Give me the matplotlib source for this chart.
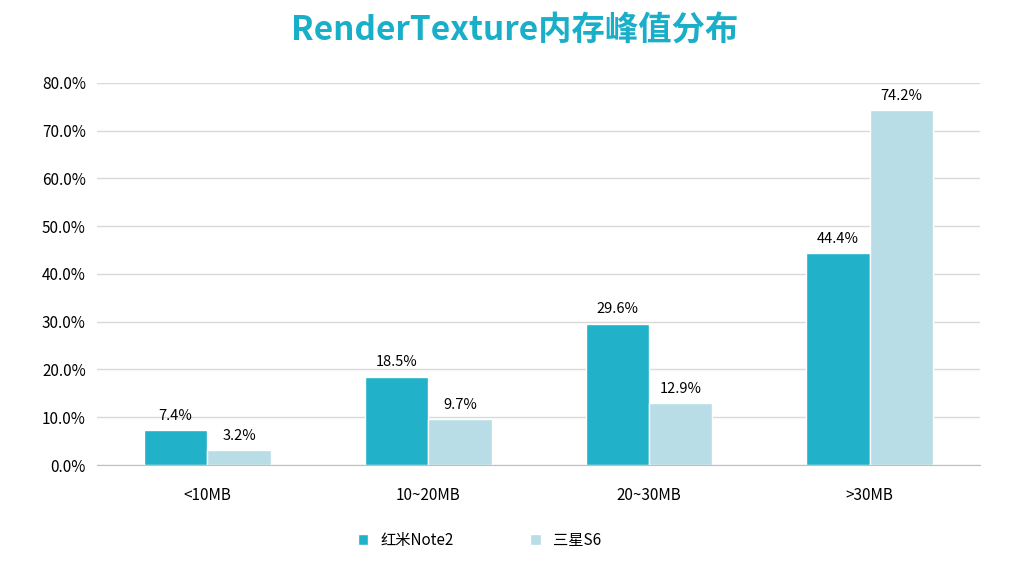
import matplotlib
matplotlib.use('Agg')
import matplotlib.pyplot as plt
import numpy as np

plt.rcParams['font.family'] = ['Noto Sans CJK SC']

# data
categories = ['<10MB', '10~20MB', '20~30MB', '>30MB']
redmi = [7.4, 18.5, 29.6, 44.4]
samsung = [3.2, 9.7, 12.9, 74.2]
series_names = ['红米Note2', '三星S6']

fig = plt.figure(figsize=(10.2, 5.63), dpi=100)
ax = fig.add_axes([0.095, 0.174, 0.866, 0.679])

x = np.arange(len(categories))
w = 0.287
b1 = ax.bar(x - w / 2, redmi, w, color='#21B1C9', edgecolor='white', linewidth=1, label=series_names[0])
b2 = ax.bar(x + w / 2, samsung, w, color='#B9DDE6', edgecolor='white', linewidth=1, label=series_names[1])

for bars, vals in ((b1, redmi), (b2, samsung)):
    for rect, v in zip(bars, vals):
        ax.text(rect.get_x() + rect.get_width() / 2, v + 1.5, f'{v:.1f}%',
                ha='center', va='bottom', fontsize=10.5)

ax.set_xlim(-0.5, 3.5)
ax.set_ylim(0, 80)
ax.set_yticks(np.arange(0, 81, 10))
ax.set_yticklabels([f'{t:.1f}%' for t in range(0, 81, 10)], fontsize=11)
ax.set_xticks(x)
ax.set_xticklabels(categories, fontsize=11)
ax.tick_params(length=0, pad=8)
ax.tick_params(axis='x', pad=16)
ax.yaxis.grid(True, color='#d9d9d9', linewidth=1)
ax.set_axisbelow(True)
for s in ('top', 'right', 'left'):
    ax.spines[s].set_visible(False)
ax.spines['bottom'].set_color('#bfbfbf')

fig.text(0.505, 0.945, 'RenderTexture内存峰值分布', ha='center', va='center',
         fontsize=24, fontweight='bold', color='#1AAFC8')

fig.legend(handles=[b1, b2], loc='center', bbox_to_anchor=(0.47, 0.04), ncol=2,
           frameon=False, fontsize=11, handlelength=0.7, handleheight=0.7,
           columnspacing=5)

fig.savefig('out.png', dpi=100)
